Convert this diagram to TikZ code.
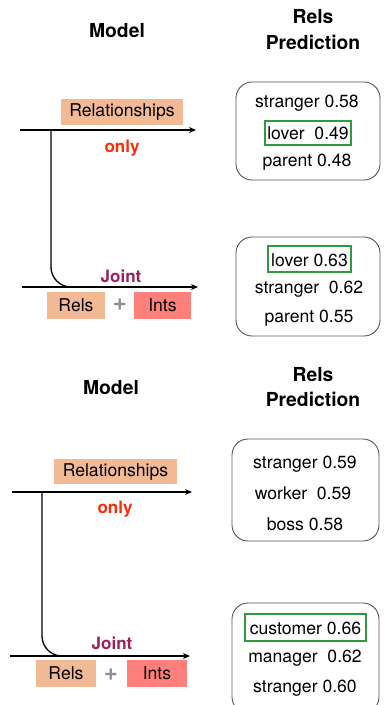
\documentclass[tikz,border=0pt]{standalone}
\usepackage{fontspec}
\setmainfont{TeX Gyre Heros}
\usetikzlibrary{arrows.meta}
\definecolor{onlyred}{HTML}{FF2A0A}
\definecolor{jointpurple}{HTML}{9C1F5C}
\definecolor{relspeach}{HTML}{F1B994}
\definecolor{intsred}{HTML}{FF7F7A}
\definecolor{plusgray}{HTML}{909090}
\definecolor{boxgray}{HTML}{555555}
\definecolor{goodgreen}{HTML}{2E9B3E}
\tikzset{
  title/.style={font=\fontsize{19.3}{22}\selectfont\bfseries, inner sep=0pt},
  txt/.style={font=\fontsize{17.6}{21}\selectfont, inner sep=0pt},
  lbl/.style={font=\fontsize{17}{20}\selectfont\bfseries, inner sep=0pt},
  plussign/.style={font=\fontsize{24}{24}\selectfont\bfseries, inner sep=0pt, text=plusgray},
  predbox/.style={draw=boxgray, line width=0.9pt, rounded corners=16pt},
  greenbox/.style={draw=goodgreen, line width=1.2pt},
  flow/.style={line width=1.3pt, -{Stealth[length=7pt,width=6pt]}},
  branch/.style={line width=1.3pt, rounded corners=20pt},
  tagbox/.style={inner sep=0pt, font=\fontsize{17.6}{21}\selectfont},
}
\begin{document}
\begin{tikzpicture}[x=1pt,y=-1pt]
\useasboundingbox (0,0) rectangle (384,705);
% ===== Top section =====
\node[title] (m1) at (117,31) {Model};
\node[title] (r1) at (313,17) {Rels};
\node[title] (pr1) at (313,42) {Prediction};
% relationships-only model
\node[tagbox, fill=relspeach, minimum width=122pt, minimum height=26pt] (rel1) at (122,112) {Relationships};
\coordinate (a1s) at (20,130);
\coordinate (a1e) at (196,130);
\draw[flow] (a1s) -- (a1e);
\node[lbl, text=onlyred] (only1) at (122,148) {only};
% joint model
\coordinate (a2s) at (22,287);
\coordinate (a2e) at (198,287);
\draw[flow] (a2s) -- (a2e);
\coordinate (b1s) at (51,130);
\coordinate (b1e) at (74,287);
\draw[branch] (b1s) |- (b1e);
\node[lbl, text=jointpurple] (joint1) at (121,276) {Joint};
\node[tagbox, fill=relspeach, minimum width=58pt, minimum height=27pt] (rels1) at (76,305.5) {Rels};
\node[plussign] (plus1) at (120,305) {+};
\node[tagbox, fill=intsred, minimum width=57pt, minimum height=27pt] (ints1) at (162.5,305.5) {Ints};
% prediction boxes
\node[predbox, minimum width=144pt, minimum height=98pt] (pb1) at (308,131) {};
\node[txt] (t11) at (307,103) {stranger 0.58};
\node[greenbox, minimum width=86pt, minimum height=24pt, inner sep=0pt] (g1) at (308,133) {};
\node[txt] (t12) at (308,133) {lover\ \ 0.49};
\node[txt] (t13) at (307,162) {parent 0.48};
\node[predbox, minimum width=144pt, minimum height=99pt] (pb2) at (308,286.5) {};
\node[greenbox, minimum width=83pt, minimum height=26pt, inner sep=0pt] (g2) at (309.5,259) {};
\node[txt] (t21) at (309.5,260) {lover 0.63};
\node[txt] (t22) at (309,289) {stranger\ \ 0.62};
\node[txt] (t23) at (309,318) {parent 0.55};
% ===== Bottom section =====
\node[title] (m2) at (111,388) {Model};
\node[title] (r2) at (313,375) {Rels};
\node[title] (pr2) at (313,399) {Prediction};
\node[tagbox, fill=relspeach, minimum width=123pt, minimum height=25pt] (rel2) at (115.5,471.5) {Relationships};
\coordinate (a3s) at (12,492);
\coordinate (a3e) at (192,492);
\draw[flow] (a3s) -- (a3e);
\node[lbl, text=onlyred] (only2) at (115,509) {only};
\coordinate (a4s) at (10,656);
\coordinate (a4e) at (190,656);
\draw[flow] (a4s) -- (a4e);
\coordinate (b2s) at (42,492);
\coordinate (b2e) at (66,656);
\draw[branch] (b2s) |- (b2e);
\node[lbl, text=jointpurple] (joint2) at (112,643) {Joint};
\node[tagbox, fill=relspeach, minimum width=60pt, minimum height=27pt] (rels2) at (66,673.5) {Rels};
\node[plussign] (plus2) at (111,675) {+};
\node[tagbox, fill=intsred, minimum width=60pt, minimum height=27pt] (ints2) at (157,673.5) {Ints};
\node[predbox, minimum width=147pt, minimum height=102pt] (pb3) at (305.5,490) {};
\node[txt] (t31) at (305,464) {stranger 0.59};
\node[txt] (t32) at (303,493) {worker\ \ 0.59};
\node[txt] (t33) at (305,524) {boss 0.58};
\node[predbox, minimum width=147pt, minimum height=110pt] (pb4) at (305.5,658) {};
\node[greenbox, minimum width=121pt, minimum height=27pt, inner sep=0pt] (g4) at (305.5,627.5) {};
\node[txt] (t41) at (305.5,628) {customer 0.66};
\node[txt] (t42) at (305,658) {manager\ \ 0.62};
\node[txt] (t43) at (305,688) {stranger 0.60};
\end{tikzpicture}
\end{document}
